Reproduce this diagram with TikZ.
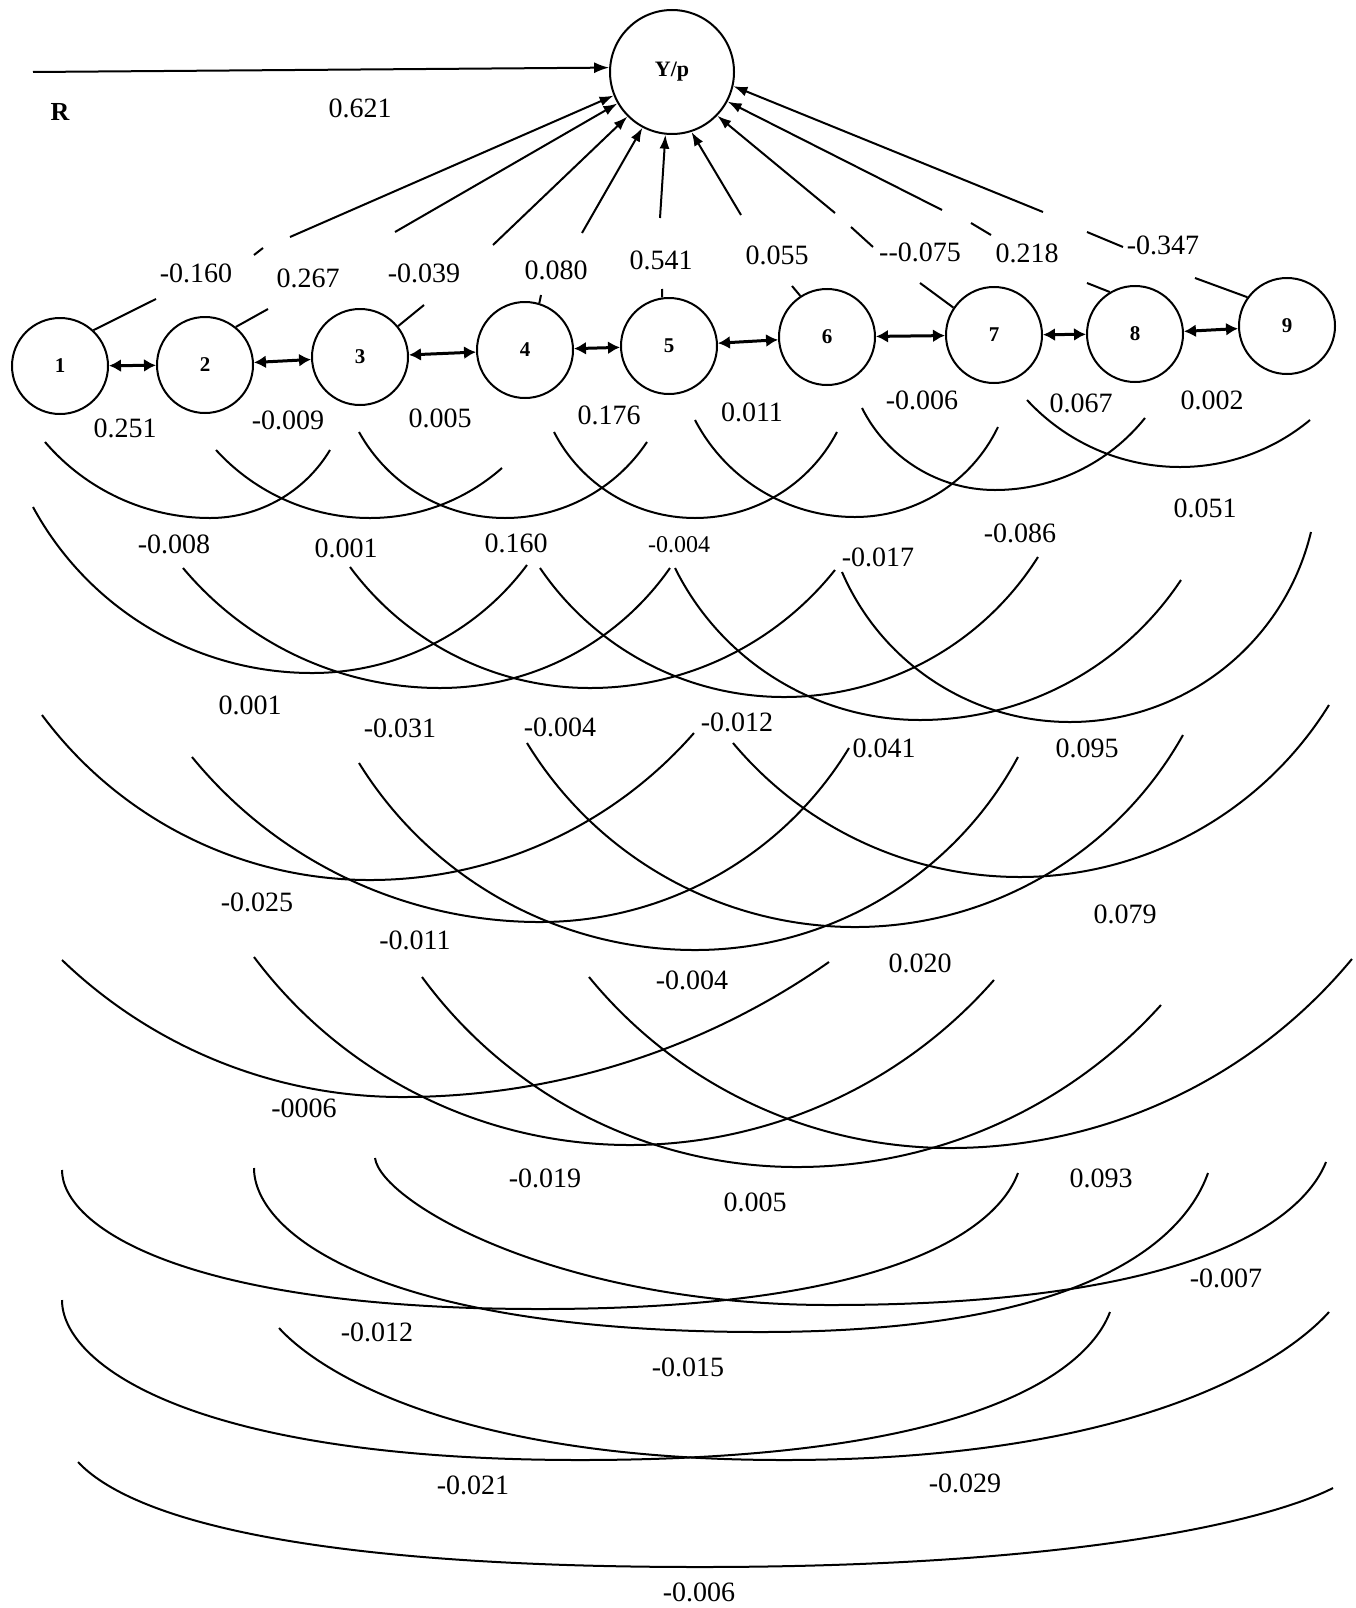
\documentclass[tikz,border=0pt]{standalone}
\usepackage{fontspec}
\setmainfont{Liberation Serif}
\usetikzlibrary{arrows.meta}

% correlation arc: left end (#1,#2), lowest point (#3,#4), right end (#5,#6);
% y values measured downwards; each half is a circular arc tangent at the bottom
\newcommand\corarc[6]{%
  \pgfmathsetmacro\arcrl{(((#3-#1)/10)^2+((#4-#2)/10)^2)/(#4-#2)*50}%
  \pgfmathsetmacro\arcpl{asin((#3-#1)/\arcrl)}%
  \pgfmathsetmacro\arcrr{(((#5-#3)/10)^2+((#4-#6)/10)^2)/(#4-#6)*50}%
  \pgfmathsetmacro\arcpr{asin((#5-#3)/\arcrr)}%
  \draw[arcline] (#1,-#2) arc[start angle={270-\arcpl}, end angle=270, radius=\arcrl pt]
    arc[start angle=270, end angle={270+\arcpr}, radius=\arcrr pt];%
}

\tikzset{
  varnode/.style={draw, circle, minimum size=96pt, inner sep=0pt, line width=2pt,
    font={\fontsize{21}{23}\selectfont\bfseries}},
  coef/.style={inner sep=0pt, font={\fontsize{28}{30}\selectfont}},
  smallcoef/.style={inner sep=0pt, font={\fontsize{24}{26}\selectfont}},
  effect/.style={line width=2pt, -{Latex[length=14pt,width=10pt]}},
  stubline/.style={line width=2pt},
  corr/.style={line width=3pt, {Latex[length=12pt,width=13pt]}-{Latex[length=12pt,width=13pt]}},
  arcline/.style={line width=2pt},
}

\begin{document}
\begin{tikzpicture}[x=1pt,y=1pt]
\fill[white] (0,0) rectangle (1356,-1608);
\useasboundingbox (0,0) rectangle (1356,-1608);

% response variable and residual
\node[varnode, minimum size=124pt, font={\fontsize{22}{24}\selectfont\bfseries}] (yp) at (672,-72) {Y/p};
\coordinate (rs) at (33,-72);
\draw[effect, -{Latex[length=15pt,width=11pt]}] (rs) -- (yp.176);
\node[inner sep=0pt, font={\fontsize{26}{28}\selectfont\bfseries}] (R) at (60,-112) {R};
\node[coef] (c0) at (360,-108) {0.621};

% the nine characters
\node[varnode] (n1) at (60,-366) {1};
\node[varnode] (n2) at (205,-365) {2};
\node[varnode] (n3) at (360,-357) {3};
\node[varnode] (n4) at (525,-350) {4};
\node[varnode] (n5) at (669,-346) {5};
\node[varnode] (n6) at (827,-337) {6};
\node[varnode] (n7) at (994,-335) {7};
\node[varnode] (n8) at (1135,-334) {8};
\node[varnode] (n9) at (1287,-326) {9};

% direct effects: short stub at each node, broken by its coefficient, then the arrow to Y/p
\coordinate (s1) at (156,-299);
\coordinate (s2) at (268,-309);
\coordinate (s3) at (424,-305);
\coordinate (s4) at (541,-295);
\coordinate (s5) at (662,-289);
\coordinate (s6) at (792,-286);
\coordinate (s7) at (920,-283);
\coordinate (s8) at (1087,-283);
\coordinate (s9) at (1195,-278);
\draw[stubline] (n1.47) -- (s1);
\draw[stubline] (n2.51) -- (s2);
\draw[stubline] (n3.39) -- (s3);
\draw[stubline] (n4.73) -- (s4);
\draw[stubline] (n5.98) -- (s5);
\draw[stubline] (n6.123) -- (s6);
\draw[stubline] (n7.146) -- (s7);
\draw[stubline] (n8.121) -- (s8);
\draw[stubline] (n9.144) -- (s9);

\coordinate (k1a) at (254,-255); \coordinate (k1b) at (263,-248);
\coordinate (k7a) at (873,-247); \coordinate (k7b) at (851,-227);
\coordinate (k8a) at (991,-235); \coordinate (k8b) at (971,-223);
\coordinate (k9a) at (1123,-247); \coordinate (k9b) at (1087,-232);
\draw[stubline] (k1a) -- (k1b);
\draw[stubline] (k7a) -- (k7b);
\draw[stubline] (k8a) -- (k8b);
\draw[stubline] (k9a) -- (k9b);

\coordinate (t1) at (290,-237);
\coordinate (t2) at (395,-232);
\coordinate (t3) at (493,-245);
\coordinate (t4) at (582,-233);
\coordinate (t5) at (660,-218);
\coordinate (t6) at (741,-215);
\coordinate (t7) at (835,-213);
\coordinate (t8) at (942,-210);
\coordinate (t9) at (1043,-212);
\draw[effect] (t1) -- (yp.202);
\draw[effect] (t2) -- (yp.210);
\draw[effect] (t3) -- (yp.225);
\draw[effect] (t4) -- (yp.242);
\draw[effect] (t5) -- (yp.264);
\draw[effect] (t6) -- (yp.288);
\draw[effect] (t7) -- (yp.316);
\draw[effect] (t8) -- (yp.332);
\draw[effect] (t9) -- (yp.347);

\node[coef] (d1) at (196,-273) {-0.160};
\node[coef] (d2) at (308,-278) {0.267};
\node[coef] (d3) at (424,-273) {-0.039};
\node[coef] (d4) at (556,-270) {0.080};
\node[coef] (d5) at (661,-260) {0.541};
\node[coef] (d6) at (777,-255) {0.055};
\node[coef] (d7) at (920,-252) {-{}-0.075};
\node[coef] (d8) at (1027,-253) {0.218};
\node[coef] (d9) at (1163,-245) {-0.347};

% correlations between neighbouring characters
\draw[corr] (n1) -- (n2);
\draw[corr] (n2) -- (n3);
\draw[corr] (n3) -- (n4);
\draw[corr] (n4) -- (n5);
\draw[corr] (n5) -- (n6);
\draw[corr] (n6) -- (n7);
\draw[corr] (n7) -- (n8);
\draw[corr] (n8) -- (n9);
\node[coef] (r12) at (125,-428) {0.251};
\node[coef] (r23) at (288,-420) {-0.009};
\node[coef] (r34) at (440,-418) {0.005};
\node[coef] (r45) at (609,-415) {0.176};
\node[coef] (r56) at (752,-412) {0.011};
\node[coef] (r67) at (922,-400) {-0.006};
\node[coef] (r78) at (1081,-403) {0.067};
\node[coef] (r89) at (1212,-400) {0.002};

% correlations two apart
\corarc{45}{442}{210}{518}{330}{450}
\corarc{216}{450}{370}{518}{502}{468}
\corarc{359}{432}{505}{518}{647}{442}
\corarc{554}{432}{695}{518}{837}{432}
\corarc{695}{420}{855}{517}{998}{427}
\corarc{862}{408}{995}{490}{1145}{418}
\corarc{1027}{400}{1180}{467}{1310}{420}
\node[coef] (r13) at (174,-544) {-0.008};
\node[coef] (r24) at (346,-548) {0.001};
\node[coef] (r35) at (516,-543) {0.160};
\node[smallcoef] (r46) at (679,-545) {-0.004};
\node[coef] (r57) at (878,-557) {-0.017};
\node[coef] (r68) at (1020,-533) {-0.086};
\node[coef] (r79) at (1205,-508) {0.051};

% correlations three apart
\corarc{33}{507}{312}{673}{527}{565}
\corarc{183}{568}{440}{688}{670}{568}
\corarc{350}{567}{590}{688}{835}{570}
\corarc{540}{568}{784}{697}{1038}{557}
\corarc{675}{568}{920}{720}{1181}{580}
\corarc{842}{572}{1070}{722}{1311}{532}
\node[coef] (r14) at (250,-705) {0.001};
\node[coef] (r25) at (400,-728) {-0.031};
\node[coef] (r36) at (560,-727) {-0.004};
\node[coef] (r47) at (737,-722) {-0.012};
\node[coef] (r58) at (884,-748) {0.041};
\node[coef] (r69) at (1087,-748) {0.095};

% correlations four apart
\corarc{42}{715}{370}{880}{694}{733}
\corarc{192}{757}{540}{922}{849}{748}
\corarc{359}{763}{695}{950}{1018}{757}
\corarc{527}{743}{855}{927}{1183}{735}
\corarc{733}{743}{1020}{877}{1329}{705}
\node[coef] (r15) at (257,-902) {-0.025};
\node[coef] (r26) at (415,-940) {-0.011};
\node[coef] (r37) at (692,-980) {-0.004};
\node[coef] (r48) at (920,-963) {0.020};
\node[coef] (r59) at (1125,-914) {0.079};

% correlations five apart
\corarc{62}{960}{402}{1097}{829}{962}
\corarc{254}{957}{630}{1145}{994}{980}
\corarc{422}{977}{797}{1167}{1161}{1005}
\corarc{589}{977}{950}{1148}{1352}{959}
\node[coef] (r16) at (304,-1108) {-0006};
\node[coef] (r27) at (545,-1178) {-0.019};
\node[coef] (r38) at (755,-1202) {0.005};
\node[coef] (r49) at (1101,-1178) {0.093};

% correlations six apart: steep ends, flat bottoms
\draw[arcline] (62,-1170) .. controls +(0,-56) and +(-358,0) .. (540,-1309)
  .. controls +(358,0) and +(-20,-54) .. (1018,-1173);
\draw[arcline] (254,-1168) .. controls +(0,-66) and +(-380,0) .. (761,-1332)
  .. controls +(335,0) and +(-22,-62) .. (1208,-1173);
\draw[arcline] (375,-1158) .. controls +(6,-44) and +(-273,0) .. (830,-1305)
  .. controls +(372,0) and +(-22,-55) .. (1326,-1162);
\node[coef] (r17) at (377,-1332) {-0.012};
\node[coef] (r28) at (688,-1367) {-0.015};
\node[coef] (r39) at (1226,-1278) {-0.007};

% correlations seven apart
\draw[arcline] (62,-1300) .. controls +(0,-64) and +(-389,0) .. (580,-1460)
  .. controls +(398,0) and +(-22,-58) .. (1110,-1312);
\draw[arcline] (279,-1328) .. controls +(40,-44) and +(-328,0) .. (784,-1460)
  .. controls +(354,0) and +(-44,-49) .. (1329,-1312);
\node[coef] (r18) at (473,-1485) {-0.021};
\node[coef] (r29) at (965,-1483) {-0.029};

% correlation of the two outer characters
\draw[arcline] (78,-1462) .. controls +(44,-47) and +(-435,0) .. (700,-1567)
  .. controls +(380,0) and +(-63,-32) .. (1333,-1488);
\node[coef] (r19) at (699,-1592) {-0.006};
\end{tikzpicture}
\end{document}
